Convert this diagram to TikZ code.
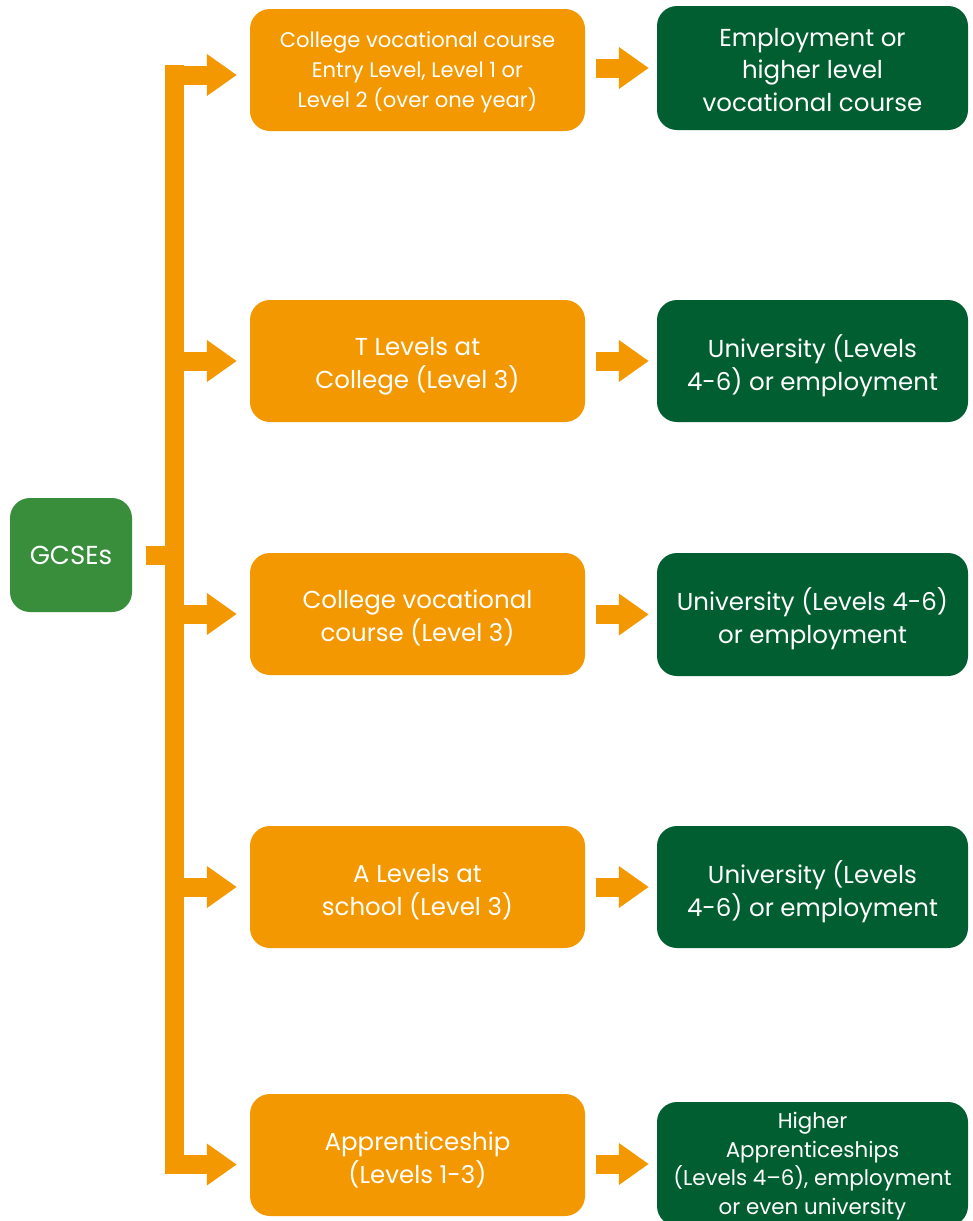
\documentclass[tikz,border=0pt]{standalone}
\usepackage{fontspec}
\setmainfont{Poppins}
\usetikzlibrary{arrows.meta}
\definecolor{orng}{HTML}{F39800}
\definecolor{dgreen}{HTML}{005E30}
\definecolor{lgreen}{HTML}{388E3B}
\tikzset{
 obox/.style={fill=orng, rounded corners=20pt, minimum width=335pt, minimum height=122pt, inner sep=0pt},
 gbox/.style={fill=dgreen, rounded corners=20pt, minimum width=311pt, minimum height=122pt, inner sep=0pt},
 txt/.style={text=white, align=center, inner sep=0pt},
 fat/.style={draw=orng, line width=19pt, line cap=butt},
 fatarrow/.style={fat, -{Triangle[length=30pt,width=40pt]}},
 big/.style={txt, font=\fontsize{24.5}{33}\selectfont},
 small/.style={txt, font=\fontsize{21.1}{30}\selectfont},
}
\begin{document}
\begin{tikzpicture}[x=1pt,y=-1pt]
\useasboundingbox (0,0) rectangle (972,1221);
\begin{scope}
\clip (0,0) rectangle (972,1221);
\node[fill=lgreen, rounded corners=20pt, minimum width=122pt, minimum height=114pt, inner sep=0pt] (gcse) at (71,555) {};
\node[txt, font=\fontsize{26}{30}\selectfont] (gcset) at (gcse.center) {GCSEs};

\node[obox] (o1) at (417.5,70) {};
\node[obox] (o2) at (417.5,361) {};
\node[obox] (o3) at (417.5,614) {};
\node[obox] (o4) at (417.5,887) {};
\node[obox] (o5) at (417.5,1155) {};
\node[small] (o1t) at ([yshift=-2.5pt]o1.center) {College vocational course\\Entry Level, Level 1 or\\Level 2 (over one year)};
\node[big] (o2t) at ([yshift=-5pt]o2.center) {T Levels at\\College (Level 3)};
\node[big] (o3t) at ([yshift=-4pt]o3.center) {College vocational\\course (Level 3)};
\node[big] (o4t) at ([yshift=-5pt]o4.center) {A Levels at\\school (Level 3)};
\node[big] (o5t) at ([yshift=-5pt]o5.center) {Apprenticeship\\(Levels 1-3)};

\node[gbox, minimum height=124pt] (g1) at (812.5,68) {};
\node[gbox] (g2) at (812.5,361) {};
\node[gbox, minimum height=123pt] (g3) at (812.5,614.5) {};
\node[gbox] (g4) at (812.5,887) {};
\node[gbox, minimum height=124pt] (g5) at (812.5,1164) {};
\node[big, font=\fontsize{24.5}{32.5}\selectfont] (g1t) at ([yshift=-2pt]g1.center) {Employment or\\higher level\\vocational course};
\node[big] (g2t) at ([yshift=-4.5pt]g2.center) {University (Levels\\4-6) or employment};
\node[big] (g3t) at ([yshift=-4pt]g3.center) {University (Levels 4-6)\\or employment};
\node[big] (g4t) at ([yshift=-4.5pt]g4.center) {University (Levels\\4-6) or employment};
\node[txt, font=\fontsize{21.4}{28.5}\selectfont] (g5t) at ([yshift=-2pt]g5.center) {Higher\\Apprenticeships\\(Levels 4–6), employment\\or even university};

\coordinate (ttop) at (174.5,65);
\coordinate (tbot) at (174.5,1174);
\coordinate (tl) at (165,0);
\draw[fat] (ttop) -- (tbot);
\draw[fat] ([xshift=14pt]gcse.east) -- (gcse.east -| tl);

\draw[fatarrow] ([yshift=-5pt]o1.west -| tl) -- ([xshift=-13pt,yshift=-5pt]o1.west);
\draw[fatarrow] (o2.west -| tl) -- ([xshift=-13pt]o2.west);
\draw[fatarrow] (o3.west -| tl) -- ([xshift=-13pt]o3.west);
\draw[fatarrow] (o4.west -| tl) -- ([xshift=-13pt]o4.west);
\draw[fatarrow] ([yshift=-9.5pt]o5.west -| tl) -- ([xshift=-13pt,yshift=-9.5pt]o5.west);

\draw[fatarrow] ([xshift=11pt]o1.east |- g1.west) -- ([xshift=-8pt]g1.west);
\draw[fatarrow] ([xshift=11pt]o2.east |- g2.west) -- ([xshift=-8pt]g2.west);
\draw[fatarrow] ([xshift=11pt]o3.east |- g3.west) -- ([xshift=-8pt]g3.west);
\draw[fatarrow] ([xshift=11pt]o4.east |- g4.west) -- ([xshift=-8pt]g4.west);
\draw[fatarrow] ([xshift=11pt]o5.east |- g5.west) -- ([xshift=-8pt]g5.west);
\end{scope}
\end{tikzpicture}
\end{document}
